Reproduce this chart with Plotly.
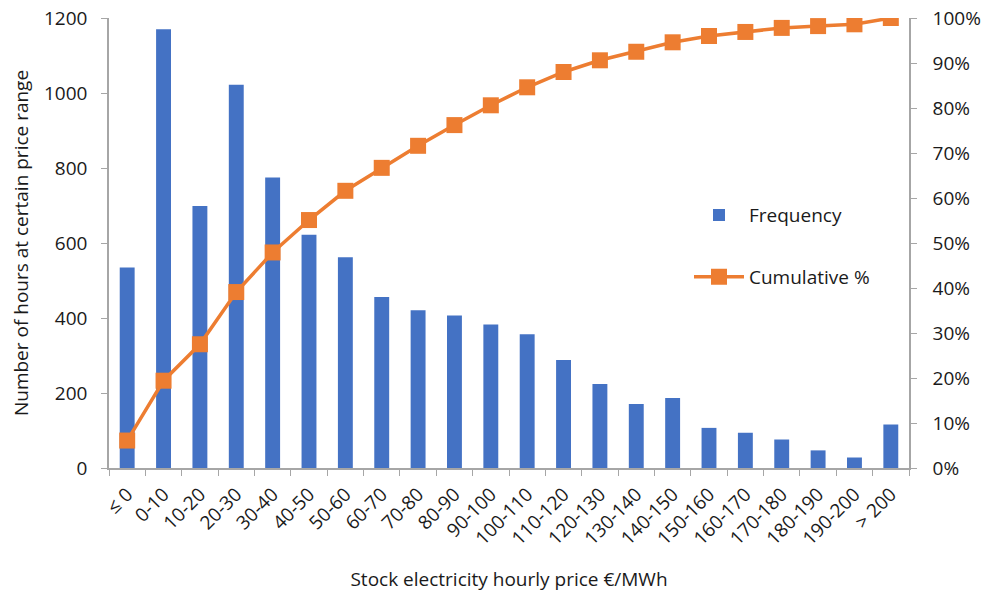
import plotly.graph_objects as go

# Price bins (€/MWh) and hours per bin
price_bins = ["≤ 0", "0-10", "10-20", "20-30", "30-40", "40-50", "50-60", "60-70",
              "70-80", "80-90", "90-100", "100-110", "110-120", "120-130", "130-140",
              "140-150", "150-160", "160-170", "170-180", "180-190", "190-200", "> 200"]
frequency = [535, 1170, 699, 1022, 775, 622, 562, 456, 421, 407, 383, 357,
             288, 224, 171, 187, 107, 94, 76, 47, 28, 116]
cumulative_pct = [6.1, 19.4, 27.5, 39.1, 47.9, 55.1, 61.6, 66.7, 71.6, 76.2, 80.6,
                  84.6, 88.0, 90.6, 92.5, 94.6, 96.0, 96.9, 97.8, 98.2, 98.6, 100.0]

BLUE = "#4472C4"
ORANGE = "#ED7D31"
AXIS = "#A6A6A6"
FONT = "Open Sans, Lato, sans-serif"
FS = 19

fig = go.Figure()
fig.add_trace(go.Bar(
    x=price_bins, y=frequency, name="Frequency",
    marker=dict(color=BLUE, line=dict(width=0)),
    legendgroup="a",
))
fig.add_trace(go.Scatter(
    x=price_bins, y=cumulative_pct, name="Cumulative %", yaxis="y2",
    mode="lines+markers",
    line=dict(color=ORANGE, width=3.5),
    marker=dict(symbol="square", size=16, color=ORANGE),
    legendgroup="b",
))

fig.update_layout(
    width=984, height=592,
    margin=dict(l=109, r=75, t=18, b=124),
    paper_bgcolor="white", plot_bgcolor="white",
    font=dict(family=FONT, size=FS, color="#1a1a1a"),
    bargap=0.59,
    showlegend=True,
    legend=dict(
        x=0.725, y=0.604, xanchor="left", yanchor="top",
        bgcolor="rgba(0,0,0,0)",
        font=dict(size=FS, family=FONT),
        traceorder="grouped", tracegroupgap=34,
        itemwidth=50,
    ),
    xaxis=dict(
        range=[-0.5, len(price_bins) - 0.5],
        automargin=False,
        showline=True, linecolor=AXIS, linewidth=1.5,
        ticks="outside", tickson="boundaries", ticklen=6, tickcolor=AXIS,
        ticklabelstandoff=6,
        tickangle=-45, showgrid=False,
        tickfont=dict(size=FS),
        title=dict(text="Stock electricity hourly price €/MWh", font=dict(size=FS), standoff=24),
    ),
    yaxis=dict(
        range=[0, 1200], dtick=200,
        automargin=False,
        showline=True, linecolor=AXIS, linewidth=1.5,
        ticks="outside", ticklen=6, tickcolor=AXIS, ticklabelstandoff=10,
        showgrid=False, zeroline=False,
        tickfont=dict(size=FS),
        title=dict(text="Number of hours at certain price range", font=dict(size=FS), standoff=10),
    ),
    yaxis2=dict(
        range=[0, 100], dtick=10, ticksuffix="%",
        automargin=False,
        overlaying="y", side="right",
        showline=True, linecolor=AXIS, linewidth=1.5,
        ticks="outside", ticklen=6, tickcolor=AXIS, ticklabelstandoff=12,
        showgrid=False, zeroline=False,
        tickfont=dict(size=FS),
    ),
)

fig.write_html("out.html")
